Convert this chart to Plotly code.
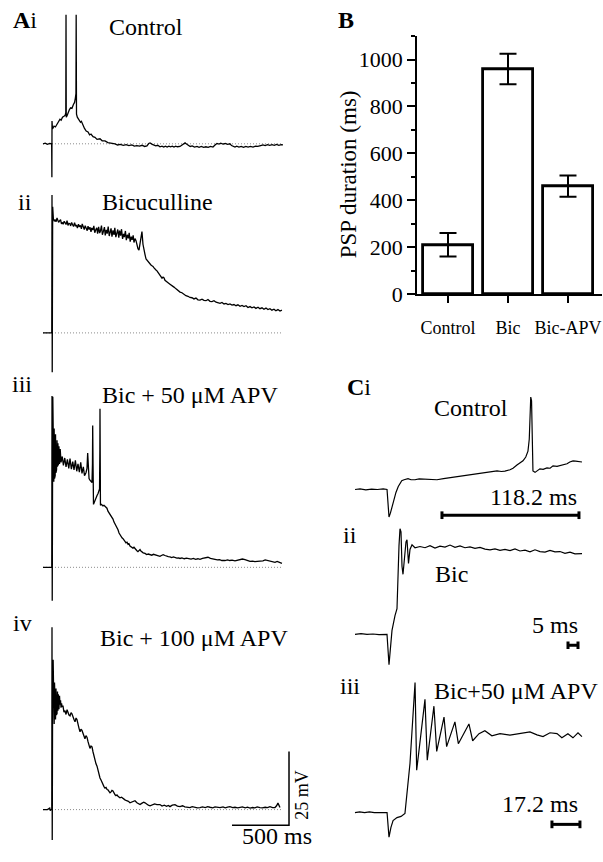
import plotly.graph_objects as go

W, H = 603, 862
FONT = "Liberation Serif"

# ---------------- DATA ----------------
# Panel A traces: (time ms, membrane potential mV relative to rest)
A1 = [(-79, 0), (-60, 0.2), (-40, -0.2), (-20, 0.1), (-3, 0), (-1, -11.3), (0, 7.7), (4, 5.0), (18, 6.0),
      (30, 5.7), (44, 6.7), (58, 7.3), (70, 8.3), (80, 8.0), (92, 9.0), (105, 9.3), (116, 9.7), (121, 10.5),
      (123, 43.7), (125, 9.0), (132, 9.5), (142, 11.0), (152, 11.5), (163, 12.2), (175, 12.0), (188, 13.3),
      (198, 14.0), (205, 15.5), (210, 17.0), (212, 43.7), (215, 10.0), (222, 9.0), (237, 8.0), (250, 7.3),
      (258, 7.6), (272, 6.0), (285, 5.2), (300, 4.3), (316, 4.0), (330, 3.0), (342, 3.3), (360, 2.4),
      (377, 2.2), (395, 1.5), (421, 1.7), (440, 1.0), (465, 1.0), (490, 0.4), (509, 0.3), (530, 0.1),
      (553, 0.0), (575, -0.4), (600, -0.2), (625, -0.5), (650, -0.3), (675, -0.6), (700, -0.4), (722, -0.8),
      (745, -0.6), (768, -0.8), (790, -0.5), (812, -0.9), (833, -0.7), (848, 0.1), (860, 0.3), (880, -0.2),
      (895, -0.4), (910, -0.7), (928, -0.5), (947, -1.0), (965, -0.8), (980, -1.1), (995, -0.8), (1010, -1.1),
      (1025, -0.8), (1040, -1.0), (1055, -0.8), (1070, -1.1), (1085, -0.8), (1100, -1.0), (1123, -0.9),
      (1145, -0.4), (1167, 0.3), (1180, -0.1), (1195, -0.6), (1212, -0.9), (1230, -0.7), (1250, -1.1),
      (1272, -0.9), (1290, -1.2), (1310, -0.9), (1330, -1.2), (1350, -1.0), (1370, -1.2), (1390, -0.9),
      (1412, -1.1), (1430, -0.4), (1447, 0.1), (1465, -0.1), (1480, 0.2), (1500, -0.1), (1520, 0.1),
      (1540, -0.2), (1561, 0.0), (1575, -0.6), (1590, -0.9), (1605, -1.1), (1620, -0.8), (1640, -1.1),
      (1660, -0.9), (1680, -1.2), (1700, -0.9), (1720, -1.1), (1740, -0.9), (1763, -1.1), (1785, -0.8),
      (1805, -0.9), (1830, -0.6), (1851, -0.4), (1870, -0.6), (1890, -0.3), (1910, -0.5), (1930, -0.3),
      (1950, -0.5), (1970, -0.2), (1990, -0.5), (2010, -0.3), (2026, -0.4)]

A2 = [(-79, 0), (-40, 0), (-9, 0), (-2, 0), (0, 46.7), (2, -13.3), (6, 42.7), (12, 38.6), (20, 37.9),
      (29, 38.3), (35, 37.6), (44, 38.9), (53, 37.9), (58, 37.4), (66, 37.9), (75, 38.3), (83, 36.9),
      (92, 37.4), (98, 36.8), (107, 37.8), (116, 37.2), (123, 36.7), (132, 38.0), (140, 36.4), (149, 37.1),
      (158, 36.9), (163, 36.2), (172, 37.4), (181, 36.6), (189, 36.0), (198, 37.3), (207, 36.1), (214, 36.5),
      (223, 35.5), (232, 36.8), (240, 35.9), (249, 36.4), (258, 35.2), (265, 36.9), (274, 35.6), (283, 35.0),
      (291, 36.3), (300, 35.4), (309, 34.6), (316, 36.1), (325, 35.0), (333, 35.8), (342, 34.2), (349, 35.5),
      (358, 34.8), (367, 36.2), (375, 33.9), (384, 34.9), (393, 35.6), (400, 33.6), (409, 35.9), (418, 33.8),
      (425, 34.5), (434, 36.3), (442, 33.2), (451, 34.4), (460, 35.8), (467, 33.0), (476, 34.9), (484, 33.6),
      (493, 36.0), (502, 32.8), (509, 34.1), (518, 35.4), (526, 32.6), (535, 34.7), (544, 33.2), (551, 35.6),
      (560, 32.4), (568, 33.9), (577, 35.0), (586, 32.2), (593, 34.6), (602, 32.9), (610, 35.1), (619, 31.8),
      (628, 33.5), (635, 32.4), (644, 34.5), (652, 31.4), (661, 33.2), (670, 32.0), (677, 33.9), (686, 30.9),
      (695, 32.6), (703, 31.5), (712, 33.0), (719, 30.6), (728, 31.9), (737, 31.2), (745, 29.8), (754, 28.5),
      (763, 28.0), (772, 30.0), (780, 32.5), (789, 34.3),
      (798, 30.0), (807, 27.3), (816, 26.5), (825, 25.0), (833, 24.6), (842, 24.0), (851, 23.8), (860, 23.3),
      (868, 23.0), (877, 22.7), (886, 22.5), (895, 22.0), (903, 21.8), (912, 21.3), (921, 21.0), (930, 20.5),
      (938, 20.3), (947, 19.6), (956, 19.2), (965, 18.5), (974, 18.9), (983, 18.6), (991, 17.8), (1000, 17.6),
      (1018, 17.0), (1035, 16.5), (1053, 16.1), (1070, 15.5), (1088, 14.9), (1105, 14.3), (1123, 13.8),
      (1140, 13.6), (1158, 13.0), (1175, 12.6), (1193, 12.4), (1210, 12.0), (1228, 11.9), (1245, 11.5),
      (1263, 11.8), (1280, 11.2), (1298, 11.1), (1316, 11.4), (1333, 11.0), (1351, 10.9), (1368, 11.3),
      (1386, 10.7), (1403, 10.6), (1421, 10.9), (1439, 10.4), (1456, 10.3), (1474, 10.0), (1491, 10.3),
      (1509, 9.8), (1526, 10.0), (1544, 9.6), (1561, 9.8), (1579, 9.4), (1596, 9.6), (1614, 9.2), (1631, 9.5),
      (1649, 9.0), (1667, 9.3), (1684, 8.9), (1702, 9.2), (1719, 8.6), (1737, 8.9), (1754, 8.5), (1772, 8.8),
      (1789, 8.3), (1807, 8.7), (1824, 8.2), (1842, 8.5), (1859, 8.0), (1877, 8.4), (1894, 7.9), (1912, 8.2),
      (1929, 7.7), (1947, 8.0), (1964, 7.5), (1982, 7.9), (2000, 7.4), (2017, 7.7)]

A3 = [(-79, 0), (-40, 0.1), (-9, 0), (-2, 0), (0, 58.0), (2, -11.3), (7, 57.7), (10, 30), (13, 50), (16, 29),
      (19, 47), (22, 30), (25, 46), (28, 31), (31, 45), (34, 32), (37, 44), (40, 33), (44, 43), (48, 34),
      (52, 42), (56, 34.5), (61, 41), (66, 35), (72, 40), (79, 35.5), (90, 37.5), (100, 34.5), (112, 37.0),
      (123, 34.0), (135, 36.5), (147, 33.5), (158, 36.8), (170, 33.2), (182, 35.8), (193, 33.0), (205, 36.2),
      (217, 32.5), (228, 35.0), (240, 32.2), (252, 35.5), (263, 31.8), (275, 34.0), (285, 31.0), (298, 32.0),
      (307, 33.5), (313, 38.7), (318, 31.0), (325, 30.0), (333, 29.5), (342, 29.0), (351, 28.7), (355, 35),
      (357, 48.0), (360, 35), (364, 21.3), (370, 22.0), (377, 22.7), (386, 23.5), (395, 24.3), (404, 25.0),
      (412, 26.0), (417, 26.5), (420, 40), (421, 53.7), (423, 40), (425, 21.0), (432, 21.3), (439, 21.0),
      (447, 20.8), (456, 21.0), (465, 20.7), (474, 20.3), (482, 20.0), (491, 19.0), (500, 18.5), (509, 18.0),
      (518, 17.3), (526, 16.8), (535, 16.3), (544, 15.3), (553, 14.7), (561, 14.0), (570, 13.3), (579, 12.7),
      (588, 11.6), (596, 11.0), (605, 10.7), (614, 10.0), (623, 9.7), (632, 9.0), (640, 8.8), (649, 8.3),
      (658, 8.5), (667, 7.8), (675, 8.0), (684, 7.2), (693, 7.0), (702, 6.7), (710, 6.5), (719, 6.8),
      (728, 6.3), (737, 5.8), (745, 5.6), (754, 5.3), (763, 5.6), (772, 6.0), (780, 5.5), (790, 5.0),
      (800, 4.9), (816, 4.7), (830, 4.3), (845, 4.5), (860, 4.3), (875, 4.1), (890, 4.4), (903, 4.2),
      (920, 4.0), (935, 3.7), (947, 3.7), (960, 4.0), (975, 4.3), (991, 4.0), (1005, 3.7), (1020, 3.6),
      (1035, 3.5), (1050, 3.3), (1065, 3.5), (1079, 3.3), (1095, 3.1), (1110, 3.2), (1123, 3.0), (1140, 3.2),
      (1160, 2.9), (1180, 3.1), (1200, 3.0), (1220, 2.8), (1240, 3.0), (1260, 2.7), (1280, 2.9), (1298, 2.7),
      (1320, 3.0), (1340, 3.2), (1368, 3.4), (1390, 3.0), (1410, 2.8), (1430, 2.7), (1450, 2.5), (1470, 2.6),
      (1490, 2.3), (1517, 2.3), (1540, 2.5), (1560, 2.3), (1580, 2.4), (1605, 2.2), (1630, 2.5), (1650, 2.7),
      (1670, 2.8), (1693, 2.6), (1715, 2.2), (1737, 2.0), (1760, 2.1), (1780, 1.9), (1800, 2.0), (1824, 2.0),
      (1850, 2.2), (1870, 2.5), (1894, 2.3), (1915, 2.0), (1935, 1.8), (1956, 1.7), (1975, 2.0), (1995, 1.6),
      (2017, 1.3)]

A4 = [(-79, 0), (-40, 0), (-20, 0.5), (-15, -0.3), (-9, 0), (-2, 0), (0, 61.7), (2, -10.3), (6, 45), (10, 50.7),
      (13, 30), (16, 45), (19, 29), (22, 43), (25, 31), (28, 42), (31, 30.5), (35, 41), (38, 32), (41, 40.5),
      (44, 32.5), (48, 40), (52, 33.5), (56, 39), (61, 34), (66, 38.5), (70, 35.5), (75, 37), (79, 34.5),
      (84, 36), (88, 34.8), (96, 35.2), (105, 33.0), (114, 33.5), (123, 32.2), (132, 33.8), (140, 32.5),
      (149, 32.0), (158, 31.7), (167, 32.8), (175, 32.4), (184, 31.0), (193, 30.5), (202, 29.7), (211, 31.0),
      (219, 30.5), (228, 28.5), (237, 27.5), (246, 26.3), (254, 27.2), (263, 26.8), (272, 25.5), (281, 24.3),
      (289, 24.0), (298, 25.0), (307, 24.5), (316, 23.0), (325, 21.5), (333, 20.7), (342, 21.5), (351, 21.2),
      (360, 19.5), (368, 18.0), (377, 16.3), (386, 15.5), (395, 14.7), (404, 13.0), (412, 11.8), (421, 10.7),
      (430, 10.0), (439, 9.0), (447, 8.5), (456, 7.8), (465, 7.3), (474, 7.5), (483, 6.8), (491, 6.7),
      (500, 6.2), (509, 5.7), (518, 6.0), (526, 6.5), (535, 6.3), (544, 5.5), (553, 5.0), (561, 4.7),
      (570, 5.0), (579, 4.5), (588, 4.3), (596, 4.0), (610, 4.2), (625, 3.6), (640, 3.3), (655, 3.0),
      (670, 2.8), (684, 2.3), (700, 2.6), (715, 3.0), (728, 3.0), (745, 2.3), (760, 2.0), (772, 1.7),
      (790, 2.2), (805, 2.5), (816, 2.3), (830, 1.8), (845, 1.5), (860, 1.3), (880, 1.6), (900, 1.9),
      (920, 1.7), (947, 1.7), (965, 1.2), (985, 1.5), (1005, 1.1), (1020, 1.4), (1035, 1.0), (1055, 1.5),
      (1079, 1.7), (1100, 1.2), (1123, 1.0), (1145, 1.3), (1165, 0.9), (1190, 0.8), (1210, 0.7), (1230, 1.0),
      (1255, 0.8), (1275, 0.6), (1298, 0.7), (1320, 0.9), (1345, 0.7), (1365, 1.0), (1386, 0.8), (1410, 0.6),
      (1430, 0.9), (1455, 0.7), (1474, 0.7), (1500, 0.9), (1520, 0.6), (1540, 0.8), (1561, 1.0), (1585, 0.7),
      (1605, 0.8), (1630, 0.6), (1649, 0.7), (1670, 0.9), (1695, 0.6), (1715, 0.8), (1737, 0.5), (1760, 0.7),
      (1780, 0.6), (1800, 0.9), (1824, 0.7), (1845, 0.6), (1870, 0.8), (1890, 0.7), (1912, 1.0), (1935, 0.7),
      (1956, 0.7), (1970, 1.3), (1982, 2.2), (1990, 1.5), (2000, 0.7)]

A_BASELINE_T = [-79, 2026]          # dotted resting-potential line (ms)
A_SCALE_MS = 500                    # horizontal scale bar
A_SCALE_MV = 25                     # vertical scale bar
A_SCALE_ORIGIN = (1579, -5.3)       # (ms, mV) left end of the L-shaped bar

A_LABELS = ["Control", "Bicuculline", "Bic + 50 μM APV", "Bic + 100 μM APV"]
A_NUMERALS = ["ii", "iii", "iv"]

# Panel B: PSP duration (ms)
B_CATS = ["Control", "Bic", "Bic-APV"]
B_DUR = [210, 960, 460]
B_ERR = [50, 65, 45]
B_YTICKS = [0, 200, 400, 600, 800, 1000]

# Panel C traces (time ms, mV)
C1 = [(-29.3, 0), (-25, 0.2), (-20, -0.1), (-15, 0.1), (-10, 0), (-5, 0.2), (-1.7, 0), (0, -9.3), (1.2, -8.0),
      (2.6, -6.0), (4, -3.5), (6, -1.0), (8, 1.0), (9.5, 2.3), (11, 3.0), (13, 3.3), (16.4, 3.7), (19, 3.3),
      (22.4, 3.3), (26, 3.6), (31, 3.5), (36, 3.4), (41.4, 3.3), (47, 3.7), (52.6, 4.0), (58, 4.3), (64, 4.6),
      (69.9, 5.0), (76, 5.3), (82.8, 5.7), (88, 6.0), (93.2, 6.3), (97, 6.1), (100, 6.2), (104.4, 6.7),
      (107, 7.2), (110.4, 8.3), (113, 9.0), (115.6, 9.7), (118, 11.0), (119.9, 13.0), (121, 17.0),
      (121.6, 24.0), (122.3, 31.3), (123, 30.0), (123.6, 15.0), (124.2, 6.3), (126, 5.8), (128, 6.5),
      (130.2, 7.0), (133, 6.8), (136.3, 7.3), (139, 7.2), (141.5, 8.0), (145, 7.8), (147.5, 8.0), (151, 8.3),
      (153.6, 8.7), (156, 9.3), (158.8, 9.7), (161, 9.6), (163.1, 9.5), (166.5, 9.3)]

C2 = [(-17, 0), (-14, 0.2), (-11, 0), (-8, 0.1), (-5, -0.1), (-2, 0.1), (-1, 0), (0, -10.3), (1.5, 1.3),
      (3, 6.3), (4, 8.7), (5, 30.0), (5.5, 35.7), (6, 34.7), (6.5, 23), (7, 20.3), (7.5, 24.3), (8.5, 31.3),
      (9, 32), (9.75, 24), (10.5, 28.7), (11.5, 30.3), (13, 29.3), (15.5, 29.7), (18, 29.3), (20.5, 30),
      (23, 29.2), (25.5, 29.8), (28, 29.5), (30.5, 30.2), (33, 29.4), (35.5, 29.9), (38, 29.3), (40.5, 29.6),
      (43, 29.1), (45.5, 29.4), (48, 28.8), (50.5, 28.6), (53, 28.9), (55.5, 28.4), (58, 28.7), (60.5, 28.3),
      (63, 28.9), (65.5, 28.2), (68, 28.5), (70.5, 27.9), (73, 28.6), (75.5, 28.0), (78, 27.8), (80.5, 28.4),
      (83, 27.9), (85.5, 28.0), (88, 27.4), (90.5, 27.8), (93, 27.2), (96.5, 27.3)]

C3 = [(-20.9, 0), (-18, 0.2), (-15, 0), (-12, 0.2), (-9, 0), (-6, 0.1), (-3, 0), (-1.2, 0), (0, -8.3),
      (1.2, -5), (2.5, -2.7), (4.9, -1.7), (7.4, -1.3), (9.8, -0.3), (12.9, 16.7), (16.0, 44), (17.0, 14.3),
      (22.1, 38.3), (23.5, 17.7), (27.6, 36), (29.3, 20.7), (33.8, 32.3), (35.4, 22.3), (40.5, 30.7),
      (42.6, 23.3), (49.1, 30), (51.4, 24.3), (55.3, 26.7), (58.9, 27.7), (63.2, 26), (68.2, 26.7),
      (74.3, 26.2), (80.4, 26.7), (86.6, 27.3), (90.9, 26.3), (94.6, 25.7), (98.9, 27), (103.2, 26.7),
      (106.2, 25.3), (109.9, 26.7), (113, 25.3), (116.1, 27), (118.5, 25.7)]

C_SCALES_MS = [118.2, 5, 17.2]                 # scale-bar lengths
C_SCALE_POS = [(45.7, -8.7), (89.5, -3.7), (100.1, -4.0)]   # (start ms, mV)
C_LABELS = ["Control", "Bic", "Bic+50 μM APV"]

# ---------------- FIGURE ----------------
fig = go.Figure()


def px_x(p):
    return p / W


def px_y(p):
    return 1 - p / H


def trace_axes(idx, box, t_ref_px, ms_per_px, base_px, px_per_mv):
    x0, x1, y0, y1 = box
    fig.layout["xaxis%d" % idx] = dict(domain=[px_x(x0), px_x(x1)],
                                      range=[(x0 - t_ref_px) * ms_per_px, (x1 - t_ref_px) * ms_per_px],
                                      visible=False, anchor="y%d" % idx)
    fig.layout["yaxis%d" % idx] = dict(domain=[px_y(y1), px_y(y0)],
                                      range=[(base_px - y1) / px_per_mv, (base_px - y0) / px_per_mv],
                                      visible=False, anchor="x%d" % idx)


def add_line(idx, xs, ys, width=1.3, color="black", dash=None):
    fig.add_trace(go.Scatter(x=xs, y=ys, mode="lines", xaxis="x%d" % idx, yaxis="y%d" % idx,
                             line=dict(color=color, width=width, dash=dash),
                             showlegend=False, hoverinfo="skip"))


MS_A = 500 / 57.0
# Panel A axes
a_boxes = [(30, 300, 0, 190, 146), (30, 300, 190, 392, 338), (30, 300, 392, 625, 576), (30, 300, 625, 862, 822)]
for k, (data, box) in enumerate(zip([A1, A2, A3, A4], a_boxes)):
    idx = k + 2
    trace_axes(idx, box[:4], 52, MS_A, box[4], 3.0)
    add_line(idx, A_BASELINE_T, [0, 0], width=1, color="#8a8a8a", dash="1px,2px")
    add_line(idx, [p[0] for p in data], [p[1] for p in data], width=1.3)

# scale bar A (on Aiv axes)
sx, sy = A_SCALE_ORIGIN
add_line(5, [sx, sx + A_SCALE_MS, sx + A_SCALE_MS], [sy, sy, sy + A_SCALE_MV], width=1.5)

# Panel C axes
c_params = [((340, 600, 385, 532), 389, 118.2 / 137.0, 497),
            ((340, 600, 532, 680), 389, 0.5, 644),
            ((340, 600, 680, 862), 389, 17.2 / 28.0, 825)]
for k, (data, prm) in enumerate(zip([C1, C2, C3], c_params)):
    idx = k + 6
    box, tref, mspp, base = prm
    trace_axes(idx, box, tref, mspp, base, 3.0)
    add_line(idx, [p[0] for p in data], [p[1] for p in data], width=1.2)
    x0, yb = C_SCALE_POS[k]
    x1 = x0 + C_SCALES_MS[k]
    cap = 1.3
    add_line(idx, [x0, x1, None, x0, x0, None, x1, x1],
             [yb, yb, None, yb - cap, yb + cap, None, yb - cap, yb + cap], width=3)

# Panel B bars
fig.add_trace(go.Bar(x=B_CATS, y=B_DUR, width=0.82,
                     marker=dict(color="white", line=dict(color="black", width=2.8)),
                     error_y=dict(type="data", array=B_ERR, color="black", thickness=2, width=8.5),
                     showlegend=False, hoverinfo="skip", xaxis="x", yaxis="y"))

fig.update_layout(
    xaxis=dict(domain=[px_x(417), px_x(602)], range=[-0.517, 2.567], type="category",
               showline=True, linecolor="black", linewidth=1.5, ticks="outside", ticklen=7,
               tickwidth=1.5, tickcolor="black", showgrid=False, zeroline=False, ticklabelstandoff=10,
               tickfont=dict(family=FONT, size=18, color="black"), anchor="y"),
    yaxis=dict(domain=[px_y(298.5), px_y(36.7)], range=[0, 1100], tickvals=B_YTICKS,
               showline=True, linecolor="black", linewidth=1.5, ticks="outside", ticklen=8,
               tickwidth=1.5, tickcolor="black", showgrid=False, zeroline=False,
               minor=dict(dtick=100, ticks="outside", ticklen=4, tickwidth=1.5, tickcolor="black", showgrid=False),
               tickfont=dict(family=FONT, size=22, color="black"), anchor="x"),
)

ann = []


def text(s, x, y, size=24, xanchor="center", yanchor="middle", angle=0):
    ann.append(dict(text=s, x=px_x(x), y=px_y(y), xref="paper", yref="paper", showarrow=False,
                    xanchor=xanchor, yanchor=yanchor, textangle=angle,
                    font=dict(family=FONT, size=size, color="black")))


# Panel A text
text("<b>A</b>i", 11, 20, xanchor="left")
text(A_LABELS[0], 146, 27)
text(A_NUMERALS[0], 34, 205, xanchor="right")
text(A_LABELS[1], 157, 205)
text(A_NUMERALS[1], 34, 390, xanchor="right")
text(A_LABELS[2], 190, 401)
text(A_NUMERALS[2], 34, 633, xanchor="right")
text(A_LABELS[3], 194, 648)
text("25 mV", 302, 807, size=18, angle=-90)
text("500 ms", 277, 849)
# Panel B text
text("<b>B</b>", 336, 20, xanchor="left")
text("PSP duration (ms)", 348, 177, size=23, angle=-90)
# Panel C text
text("<b>C</b>i", 345, 393, xanchor="left")
text(C_LABELS[0], 471, 414)
text("%.1f ms" % C_SCALES_MS[0], 533, 505)
text("ii", 359, 543, xanchor="right")
text(C_LABELS[1], 451, 583)
text("%d ms" % C_SCALES_MS[1], 555, 635)
text("iii", 362, 697, xanchor="right")
text(C_LABELS[2], 516, 702)
text("%.1f ms" % C_SCALES_MS[2], 540, 816)

fig.update_layout(width=W, height=H, margin=dict(l=0, r=0, t=0, b=0), autosize=False,
                  paper_bgcolor="white", plot_bgcolor="rgba(0,0,0,0)", annotations=ann,
                  font=dict(family=FONT), bargap=0)

fig.write_html("out.html")
